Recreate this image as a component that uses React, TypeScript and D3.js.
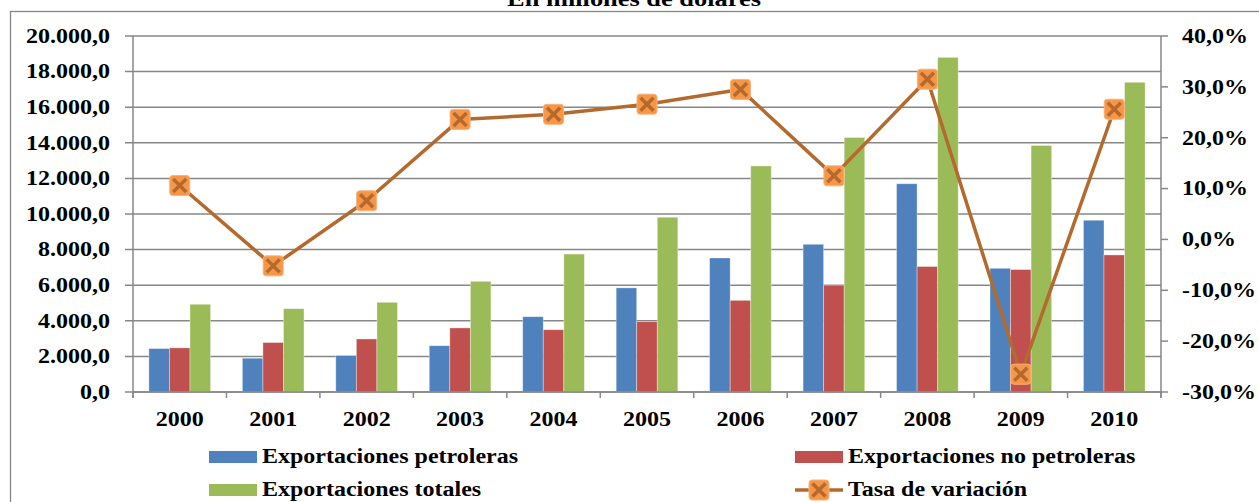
import React from "react";
import * as d3 from "d3";

const years = ["2000", "2001", "2002", "2003", "2004", "2005", "2006", "2007", "2008", "2009", "2010"];
const petroleras = [2440, 1900, 2050, 2600, 4230, 5850, 7530, 8300, 11700, 6950, 9650];
const noPetroleras = [2480, 2780, 2980, 3600, 3500, 3950, 5150, 6000, 7050, 6880, 7700];
const totales = [4930, 4680, 5040, 6220, 7750, 9820, 12700, 14300, 18800, 13850, 17400];
const tasa = [10.6, -5.2, 7.6, 23.6, 24.6, 26.6, 29.5, 12.5, 31.5, -26.5, 25.6];
const leftTicks = [0, 2000, 4000, 6000, 8000, 10000, 12000, 14000, 16000, 18000, 20000];
const rightTicks = [-30, -20, -10, 0, 10, 20, 30, 40];
const seriesNames = ["Exportaciones petroleras", "Exportaciones no petroleras", "Exportaciones totales", "Tasa de variación"];
const title = "En millones de dólares";

const W = 1259;
const H = 502;
const colors = ["#4F81BD", "#C0504D", "#9BBB59"];
const lineColor = "#B46A2E";
const markerFill = "#F79646";
const gridColor = "#878787";
const FONT = "'Liberation Serif', 'Times New Roman', serif";

const left = 133, right = 1161, top = 36, bottom = 392;

const fmtLeft = (v: number) => {
  const s = d3.format(",.1f")(v);
  return s.replace(/,/g, "#").replace(".", ",").replace(/#/g, ".");
};
const fmtRight = (v: number) => d3.format(".1f")(v).replace(".", ",").replace("−", "-") + "%";

function T({ x, y, anchor = "start", size = 20, children, dy = "0" }: any) {
  return (
    <text
      transform={`translate(${x},${y}) scale(1.2,1)`}
      textAnchor={anchor}
      dy={dy}
      fontFamily={FONT}
      fontWeight="bold"
      fontSize={size}
      fill="#000"
    >
      {children}
    </text>
  );
}

function Marker({ x, y }: { x: number; y: number }) {
  const s = 10;
  const c = 6.5;
  return (
    <g transform={`translate(${x},${y})`}>
      <rect x={-s} y={-s} width={2 * s} height={2 * s} rx={3} fill={markerFill} stroke="#F9B27A" strokeWidth={1} />
      <line x1={-c} y1={-c} x2={c} y2={c} stroke={lineColor} strokeWidth={3.5} />
      <line x1={-c} y1={c} x2={c} y2={-c} stroke={lineColor} strokeWidth={3.5} />
    </g>
  );
}

export default function App() {
  const x = d3.scaleBand<string>().domain(years).range([left, right]).padding(0);
  const yL = d3.scaleLinear().domain([0, 20000]).range([bottom, top]);
  const yR = d3.scaleLinear().domain([-30, 40]).range([bottom, top]);
  const bw = x.bandwidth() * 0.22;
  const series = [petroleras, noPetroleras, totales];
  const cx = (yr: string) => (x(yr) as number) + x.bandwidth() / 2;
  const linePath = d3
    .line<number>()
    .x((_, i) => cx(years[i]))
    .y((d) => yR(d))(tasa) as string;

  return (
    <svg width={W} height={H} style={{ position: "absolute", left: 0, top: 0, display: "block" }}>
      <rect x={0} y={0} width={W} height={H} fill="#fff" />
      {/* title (cut off at top) */}
      <T x={634} y={6} anchor="middle" size={22}>{title}</T>
      {/* outer border */}
      <rect x={10.5} y={11.5} width={W + 20} height={H + 20} fill="none" stroke={gridColor} strokeWidth={1.3} />
      {/* gridlines */}
      {leftTicks.map((t) => (
        <line key={"g" + t} x1={left - 8} x2={right} y1={yL(t)} y2={yL(t)} stroke={gridColor} strokeWidth={1.5} />
      ))}
      {/* right ticks */}
      {rightTicks.map((t) => (
        <line key={"r" + t} x1={right} x2={right + 7} y1={yR(t)} y2={yR(t)} stroke={gridColor} strokeWidth={1.5} />
      ))}
      {/* x ticks */}
      {years.concat(["end"]).map((yr, i) => {
        const xx = i < years.length ? (x(yr) as number) : right;
        return <line key={"xt" + i} x1={xx} x2={xx} y1={bottom} y2={bottom + 6} stroke={gridColor} strokeWidth={1.5} />;
      })}
      {/* bars */}
      {series.map((s, si) =>
        s.map((v, i) => {
          const x0 = cx(years[i]) - 1.5 * bw + si * bw;
          return (
            <rect
              key={`b${si}-${i}`}
              x={x0}
              y={yL(v)}
              width={bw}
              height={bottom - yL(v)}
              fill={colors[si]}
              stroke="rgba(255,255,255,0.45)"
              strokeWidth={0.8}
            />
          );
        })
      )}
      {/* axes lines */}
      <line x1={left} x2={left} y1={top} y2={bottom + 6} stroke={gridColor} strokeWidth={1.5} />
      <line x1={right} x2={right} y1={top} y2={bottom + 6} stroke={gridColor} strokeWidth={1.5} />
      <line x1={left} x2={right} y1={bottom} y2={bottom} stroke={gridColor} strokeWidth={1.5} />
      {/* line series */}
      <path d={linePath} fill="none" stroke={lineColor} strokeWidth={3.5} strokeLinejoin="round" />
      {tasa.map((v, i) => (
        <Marker key={"m" + i} x={cx(years[i])} y={yR(v)} />
      ))}
      {/* left axis labels */}
      {leftTicks.map((t) => (
        <T key={"ll" + t} x={110} y={yL(t)} anchor="end" dy="0.34em">{fmtLeft(t)}</T>
      ))}
      {/* right axis labels */}
      {rightTicks.map((t) => (
        <T key={"rl" + t} x={1182} y={yR(t)} anchor="start" dy="0.34em">{fmtRight(t)}</T>
      ))}
      {/* x labels */}
      {years.map((yr) => (
        <T key={"xl" + yr} x={cx(yr)} y={426} anchor="middle">{yr}</T>
      ))}
      {/* legend */}
      <rect x={209} y={451} width={48} height={12} fill={colors[0]} />
      <T x={262} y={463}>{seriesNames[0]}</T>
      <rect x={795} y={451} width={48} height={12} fill={colors[1]} />
      <T x={848} y={463}>{seriesNames[1]}</T>
      <rect x={209} y={484} width={48} height={12} fill={colors[2]} />
      <T x={262} y={496}>{seriesNames[2]}</T>
      <line x1={795} x2={843} y1={490} y2={490} stroke={lineColor} strokeWidth={3.5} />
      <Marker x={819} y={490} />
      <T x={848} y={496}>{seriesNames[3]}</T>
    </svg>
  );
}
